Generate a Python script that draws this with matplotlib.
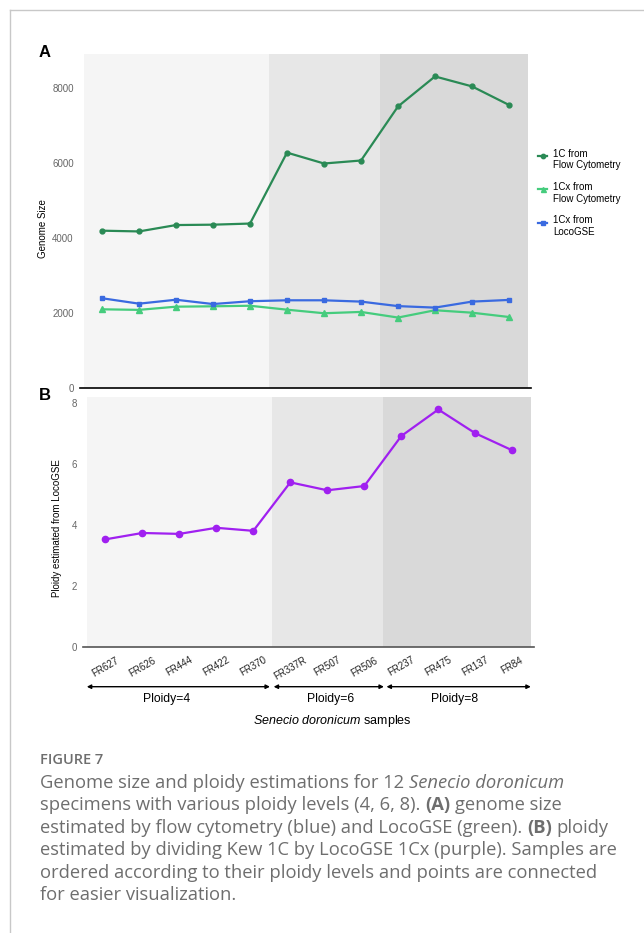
import matplotlib

matplotlib.use("Agg")
import matplotlib.pyplot as plt
from matplotlib.lines import Line2D
import numpy as np

samples = ["FR627", "FR626", "FR444", "FR422", "FR370", "FR337R",
           "FR507", "FR506", "FR237", "FR475", "FR137", "FR84"]
c1_flow = [4200, 4180, 4350, 4360, 4390, 6280, 5990, 6070, 7510, 8310, 8045, 7550]
c1x_flow = [2105, 2090, 2175, 2185, 2200, 2095, 2000, 2035, 1885, 2080, 2015, 1900]
c1x_loco = [2400, 2255, 2360, 2245, 2320, 2345, 2345, 2310, 2190, 2150, 2310, 2355]
ploidy_est = [3.52, 3.73, 3.70, 3.90, 3.80, 5.39, 5.13, 5.27, 6.91, 7.78, 7.00, 6.44]

groups = ["Ploidy=4", "Ploidy=6", "Ploidy=8"]
group_edges = [-0.5, 4.5, 7.5, 11.5]
band_colors = ["#f5f5f5", "#e7e7e7", "#d9d9d9"]

W, H = 644, 933
plt.rcParams["font.family"] = ["Liberation Sans", "DejaVu Sans"]
plt.rcParams["mathtext.fontset"] = "custom"
plt.rcParams["mathtext.rm"] = "Liberation Sans"
plt.rcParams["mathtext.it"] = "Liberation Sans:italic"
fig = plt.figure(figsize=(W / 100, H / 100), dpi=100)

# light frame around the figure block
fig.add_artist(Line2D([9.5 / W, 9.5 / W], [0, 1 - 9.5 / H], transform=fig.transFigure,
                      color="#c8c8c8", lw=1))
fig.add_artist(Line2D([9.5 / W, 1], [1 - 9.5 / H, 1 - 9.5 / H], transform=fig.transFigure,
                      color="#c8c8c8", lw=1))


def px_axes(left, top, right, bottom):
    return fig.add_axes([left / W, 1 - bottom / H, (right - left) / W, (bottom - top) / H])


x = np.arange(len(samples))


def style_axes(ax, axis_color):
    for s in ax.spines.values():
        s.set_visible(False)
    ax.set_xlim(-0.5, 11.5)
    for (a, b), col in zip(zip(group_edges[:-1], group_edges[1:]), band_colors):
        ax.axvspan(a, b, color=col, lw=0, zorder=0)
    ax.plot([-0.6, 11.6], [0, 0], color=axis_color, lw=1.2, clip_on=False, zorder=3)
    ax.tick_params(axis="y", length=0, pad=7, labelsize=7, labelcolor="#666666")
    ax.set_facecolor("white")


# --- Panel A: genome size ---
axA = px_axes(83.5, 54.3, 527.5, 388.3)
style_axes(axA, "black")
axA.set_ylim(0, 8900)
axA.set_yticks([0, 2000, 4000, 6000, 8000])
axA.set_xticks([])
axA.plot(x, c1_flow, color="#2a8a55", lw=1.6, marker="o", ms=3.5, label="1C from\nFlow Cytometry", zorder=4)
axA.plot(x, c1x_flow, color="#45cc7d", lw=1.6, marker="^", ms=4, label="1Cx from\nFlow Cytometry", zorder=4)
axA.plot(x, c1x_loco, color="#3a6ae0", lw=1.6, marker="s", ms=3.5, label="1Cx from\nLocoGSE", zorder=4)
axA.set_ylabel("Genome Size", fontsize=7)
axA.yaxis.set_label_coords(-0.079, 0.477)
leg = axA.legend(loc="upper left", bbox_to_anchor=(529 / W, 1 - 140 / H), bbox_transform=fig.transFigure,
                 frameon=False, fontsize=7, handlelength=1.0, handletextpad=0.55, labelspacing=1.2,
                 markerscale=0.9)
# raise the handles towards the first line of each two-line label
for h in leg.legend_handles:
    h.set_ydata(np.asarray(h.get_ydata()) + 3.0)

# --- Panel B: ploidy estimate ---
axB = px_axes(86.8, 397.3, 530.8, 646.7)
style_axes(axB, "#555555")
axB.set_ylim(0, 8.18)
axB.set_yticks([0, 2, 4, 6, 8])
axB.plot(x, ploidy_est, color="#a020f0", lw=1.6, marker="o", ms=4.5, zorder=4)
axB.set_ylabel("Ploidy estimated from LocoGSE", fontsize=7)
axB.yaxis.set_label_coords(-0.055, 0.476)
axB.set_xticks(x)
axB.set_xticklabels(samples, rotation=30, ha="center", fontsize=7, color="#222222")
axB.tick_params(axis="x", length=0, pad=6)

# ploidy group arrows below the sample names
tr = axB.get_xaxis_transform()
arrow_spans = [(-0.5, 4.45), (4.55, 7.53), (7.6, 11.5)]
label_x = [1.65, 6.09, 9.44]
for (a, b), name, lx in zip(arrow_spans, groups, label_x):
    axB.annotate("", xy=(b, -0.1604), xytext=(a, -0.1604), xycoords=tr, textcoords=tr,
                 arrowprops=dict(arrowstyle="<|-|>", color="black", lw=1,
                                 mutation_scale=6, shrinkA=0, shrinkB=0))
    axB.text(lx, -0.2085, name, transform=tr, ha="center", va="center", fontsize=8.7)
axB.text(6.14, -0.2967, "$\\it{Senecio\\ doronicum}$ samples", transform=tr,
         ha="center", va="center", fontsize=9)

fig.text(45 / W, 1 - 52.7 / H, "A", fontsize=12, fontweight="bold", ha="center", va="center")
fig.text(45 / W, 1 - 395 / H, "B", fontsize=12, fontweight="bold", ha="center", va="center")

# --- caption ---
cap_color = "#6e6e6e"
cap_font = ["Open Sans", "DejaVu Sans"]
fig.text(40 / W, 1 - 764 / H, "FIGURE 7", fontsize=10.5, color=cap_color, family=cap_font,
         fontweight="semibold", va="baseline")

caption = [
    [("Genome size and ploidy estimations for 12", "normal", "normal"),
     ("Senecio doronicum", "italic", "normal")],
    [("specimens with various ploidy levels (4, 6, 8).", "normal", "normal"),
     ("(A)", "normal", "bold"), ("genome size", "normal", "normal")],
    [("estimated by flow cytometry (blue) and LocoGSE (green).", "normal", "normal"),
     ("(B)", "normal", "bold"), ("ploidy", "normal", "normal")],
    [("estimated by dividing Kew 1C by LocoGSE 1Cx (purple). Samples are", "normal", "normal")],
    [("ordered according to their ploidy levels and points are connected", "normal", "normal")],
    [("for easier visualization.", "normal", "normal")],
]
cap_size = 13.2
renderer = fig.canvas.get_renderer()
probe = fig.text(0, 0, "x x", fontsize=cap_size, family=cap_font)
w_sp = probe.get_window_extent(renderer).width
probe.set_text("xx")
w_sp -= probe.get_window_extent(renderer).width
probe.remove()

y0 = 788.0
for i, runs in enumerate(caption):
    xpos = 40.0
    ypos = y0 + i * 22.4
    for txt, style, weight in runs:
        t = fig.text(xpos / W, 1 - ypos / H, txt, fontsize=cap_size, color=cap_color,
                     family=cap_font, style=style, fontweight=weight, va="baseline")
        xpos += t.get_window_extent(renderer).width + w_sp

fig.savefig("out.png", dpi=100)
